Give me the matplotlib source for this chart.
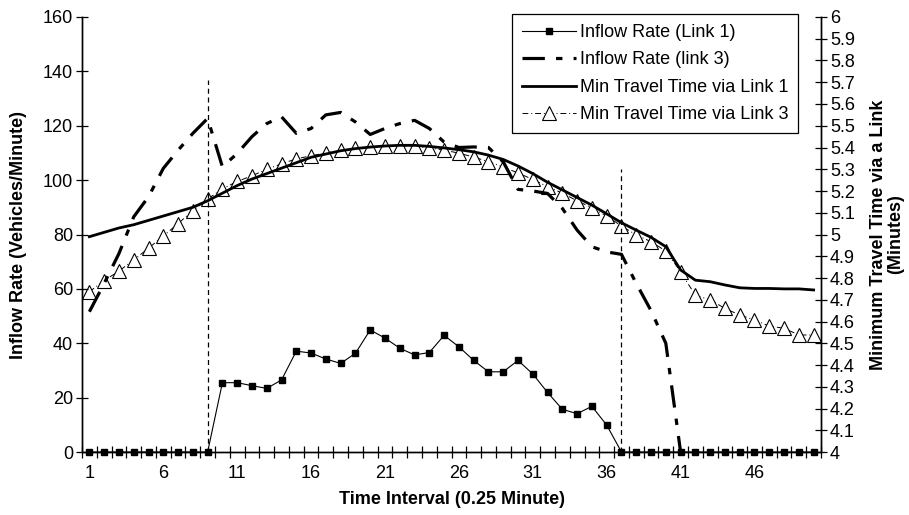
import numpy as np
import matplotlib.pyplot as plt
from matplotlib.ticker import MultipleLocator

plt.rcParams['font.family'] = ['Liberation Sans', 'DejaVu Sans']

# time intervals (categories)
intervals = np.arange(1, 51)
xtick_labels = ['1', '6', '11', '16', '21', '26', '31', '36', '41', '46']

# inflow rate on link 1 (vehicles/minute)
inflow_link1 = [0, 0, 0, 0, 0, 0, 0, 0, 0,
                25.5, 25.5, 24.4, 23.4, 26.5, 37.1, 36.4, 34.2, 32.6, 36.3,
                44.9, 41.9, 38.2, 35.7, 36.6, 42.9, 38.7, 33.7, 29.5, 29.5,
                33.7, 28.7, 21.9, 15.7, 14.1, 16.8, 9.9,
                0, 0, 0, 0, 0, 0, 0, 0, 0, 0, 0, 0, 0, 0]

# inflow rate on link 3 (intervals 1..41)
inflow_link3 = [51.6, 62, 73, 86.5, 93.9, 104.3, 111, 117.2, 122.7, 104.9,
                109.8, 116, 120.8, 123.3, 117.2, 119, 124, 124.9, 121.4, 116.8,
                119, 120.8, 122, 119, 114, 112, 112.2, 112, 106.7, 96.6,
                96, 95.1, 89.6, 81.6, 75.5, 73.6, 72.7, 62, 52, 40, 0]

# minimum travel time (minutes)
travel_link1 = [4.99, 5.01, 5.03, 5.045, 5.065, 5.085, 5.105, 5.125, 5.155, 5.19,
                5.225, 5.255, 5.28, 5.305, 5.33, 5.355, 5.37, 5.385, 5.395, 5.402,
                5.407, 5.41, 5.41, 5.405, 5.398, 5.39, 5.38, 5.365, 5.345, 5.315,
                5.28, 5.24, 5.205, 5.17, 5.135, 5.095, 5.054, 5.02, 4.987, 4.944,
                4.837, 4.79, 4.783, 4.768, 4.755, 4.752, 4.752, 4.75, 4.75, 4.745]

travel_link3 = [4.737, 4.788, 4.832, 4.883, 4.937, 4.993, 5.05, 5.11, 5.163, 5.21,
                5.244, 5.27, 5.30, 5.325, 5.348, 5.362, 5.375, 5.387, 5.396, 5.403,
                5.407, 5.408, 5.405, 5.398, 5.388, 5.374, 5.356, 5.335, 5.31, 5.283,
                5.253, 5.22, 5.19, 5.155, 5.123, 5.085, 5.039, 4.998, 4.967, 4.924,
                4.829, 4.72, 4.70, 4.66, 4.63, 4.607, 4.579, 4.569, 4.538, 4.538]

# vertical reference lines (interval, height on left axis)
ref_intervals = [9, 37]
ref_tops = [137, 104]

fig = plt.figure(figsize=(9.09, 5.15), dpi=100)
ax1 = fig.add_axes([0.0902, 0.1223, 0.8130, 0.8447])
ax2 = ax1.twinx()

ax1.vlines(ref_intervals, 0, ref_tops, colors='black', linestyles=(0, (4, 3)),
           linewidth=0.9, zorder=1)

l1, = ax1.plot(intervals, inflow_link1, color='black', linewidth=0.8,
               marker='s', markersize=3.8, clip_on=False, zorder=6,
               label='Inflow Rate (Link 1)')
l2, = ax1.plot(intervals[:len(inflow_link3)], inflow_link3, color='black',
               linewidth=2.3, linestyle=(0, (7, 3.5, 2, 3.5)), clip_on=False,
               zorder=4, label='Inflow Rate (link 3)')
l3, = ax2.plot(intervals, travel_link1, color='black', linewidth=2.0,
               clip_on=False, zorder=3, label='Min Travel Time via Link 1')
l4, = ax2.plot(intervals, travel_link3, color='black', linewidth=0.7,
               linestyle=(0, (6, 3, 1, 3)), marker='^', markersize=9.5,
               markerfacecolor='white', markeredgecolor='black',
               markeredgewidth=0.8, clip_on=False, zorder=2,
               label='Min Travel Time via Link 3')

ax1.set_xlim(0.5, 50.5)
ax1.set_ylim(0, 160)
ax2.set_ylim(4, 6)
ax1.set_zorder(ax2.get_zorder() + 1)
ax1.patch.set_visible(False)

ax1.set_xticks(intervals[::5])
ax1.set_xticklabels(xtick_labels)
ax1.xaxis.set_minor_locator(MultipleLocator(1, offset=0.5))
ax1.tick_params(axis='x', which='major', length=0, labelsize=13, pad=9)
ax1.tick_params(axis='x', which='minor', direction='inout', length=8, width=0.9)
ax1.yaxis.set_major_locator(MultipleLocator(20))
ax1.tick_params(axis='y', direction='inout', length=9, width=0.9, labelsize=13, pad=2)
ax2.set_yticks(np.arange(4, 6.01, 0.1))
ax2.set_yticklabels([('%.1f' % v).rstrip('0').rstrip('.') for v in np.arange(4, 6.01, 0.1)])
ax2.tick_params(axis='y', direction='inout', length=9, width=0.9, labelsize=13, pad=2)

for ax in (ax1, ax2):
    ax.spines['top'].set_visible(False)
    for s in ('left', 'right', 'bottom'):
        ax.spines[s].set_linewidth(1.0)

ax1.set_xlabel('Time Interval (0.25 Minute)', fontsize=13, fontweight='bold', labelpad=7)
ax1.set_ylabel('Inflow Rate (Vehicles/Minute)', fontsize=13, fontweight='bold', labelpad=11)
ax2.set_ylabel('Minimum Travel Time via a Link\n(Minutes)', fontsize=13,
               fontweight='bold', labelpad=11, linespacing=1.0)

leg = ax1.legend(handles=[l1, l2, l3, l4], loc='upper right',
                 bbox_to_anchor=(798 / 909, 1 - 14 / 515),
                 bbox_transform=fig.transFigure, fontsize=13, frameon=True,
                 fancybox=False, edgecolor='black', framealpha=1,
                 handlelength=3.0, handletextpad=0.2, borderpad=0.55,
                 labelspacing=0.58, borderaxespad=0)
leg.get_frame().set_linewidth(0.9)

fig.savefig('out.png', dpi=100)
